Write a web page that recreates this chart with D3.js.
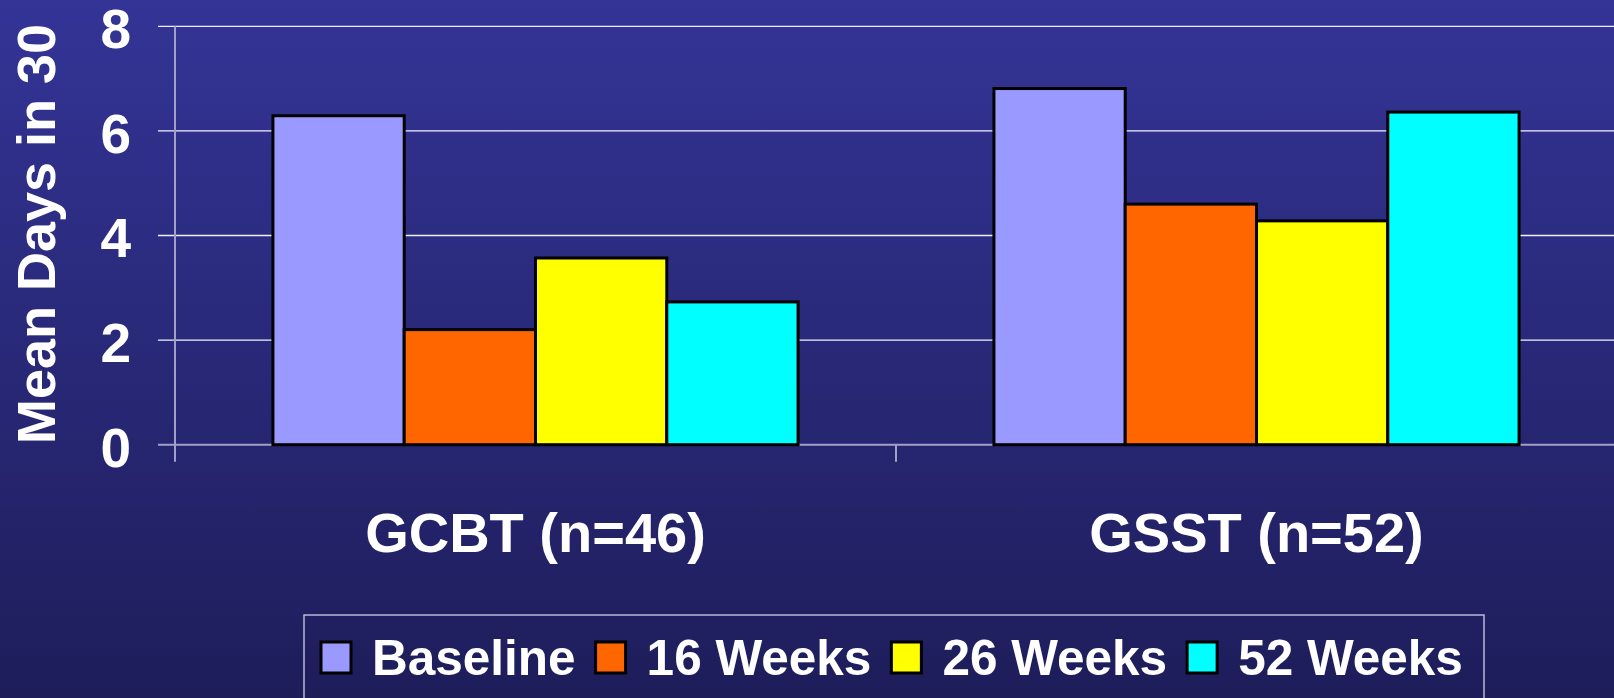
<!doctype html>
<meta charset="utf-8">
<title>Mean Days in 30</title>
<script src="https://cdn.jsdelivr.net/npm/d3@7/dist/d3.min.js"></script>
<style>
  html, body { margin: 0; padding: 0; overflow: hidden; }
  text { font-family: "Liberation Sans", Arial, sans-serif; font-weight: bold; fill: #fff; }
</style>
<div class="chart"></div>
<script>
  // data
  const groups = ['GCBT (n=46)', 'GSST (n=52)']
  const series = ['Baseline', '16 Weeks', '26 Weeks', '52 Weeks']
  const baseline = [6.29, 6.81]
  const weeks16 = [2.20, 4.60]
  const weeks26 = [3.57, 4.28]
  const weeks52 = [2.73, 6.36]
  const yTicks = [0, 2, 4, 6, 8]
  const colors = ['#9999ff', '#ff6600', '#ffff00', '#00ffff']

  const values = [baseline, weeks16, weeks26, weeks52]
  const rows = []
  groups.forEach((g, gi) => {
    series.forEach((s, si) => rows.push({ group: g, series: s, value: values[si][gi] }))
  })

  const W = 1614, H = 698
  const plotLeft = 175, plotRight = 1617, plotTop = 26.3, plotBottom = 444.7

  const svg = d3.select('.chart').append('svg')
    .attr('width', W)
    .attr('height', H)

  // background gradient
  const grad = svg.append('defs').append('linearGradient')
    .attr('id', 'bg').attr('x1', 0).attr('y1', 0).attr('x2', 0).attr('y2', 1)
  grad.append('stop').attr('offset', '0%').attr('stop-color', '#343497')
  grad.append('stop').attr('offset', '100%').attr('stop-color', '#1e1d5a')
  svg.append('rect').attr('width', W).attr('height', H).attr('fill', 'url(#bg)')

  const x0 = d3.scaleBand().domain(groups).range([plotLeft, plotRight]).padding(0)
  const x1 = d3.scaleBand().domain(series).range([0, x0.bandwidth()])
    .paddingInner(0).paddingOuter(0.746)
  const y = d3.scaleLinear().domain([0, 8]).range([plotBottom, plotTop])
  const color = d3.scaleOrdinal().domain(series).range(colors)

  // grid lines
  svg.append('g').selectAll('line')
    .data(yTicks.filter(d => d > 0))
    .enter().append('line')
    .attr('x1', plotLeft - 17).attr('x2', plotRight)
    .attr('y1', d => y(d)).attr('y2', d => y(d))
    .attr('stroke', '#f0f0ff')
    .attr('stroke-width', 1.3)

  // y axis labels
  const yAxis = svg.append('g')
    .attr('transform', `translate(${plotLeft},0)`)
    .call(d3.axisLeft(y).tickValues(yTicks).tickSize(0).tickPadding(44).tickFormat(d3.format('d')))
  yAxis.select('.domain').remove()
  yAxis.selectAll('text')
    .attr('dy', '0.39em')
    .style('font-size', '55px')
    .attr('fill', '#fff')

  // axis lines
  svg.append('line')
    .attr('x1', plotLeft).attr('x2', plotLeft).attr('y1', plotTop).attr('y2', plotBottom + 17)
    .attr('stroke', '#a0a0c8').attr('stroke-width', 2)
  svg.append('line')
    .attr('x1', plotLeft - 17).attr('x2', plotRight).attr('y1', plotBottom).attr('y2', plotBottom)
    .attr('stroke', '#a0a0c8').attr('stroke-width', 2)
  svg.append('g').selectAll('line')
    .data(groups.slice(1))
    .enter().append('line')
    .attr('x1', d => x0(d)).attr('x2', d => x0(d))
    .attr('y1', plotBottom).attr('y2', plotBottom + 17)
    .attr('stroke', '#a0a0c8').attr('stroke-width', 2)

  // bars
  svg.append('g').selectAll('rect')
    .data(rows)
    .enter().append('rect')
    .attr('x', d => x0(d.group) + x1(d.series))
    .attr('y', d => y(d.value))
    .attr('width', x1.bandwidth())
    .attr('height', d => plotBottom - y(d.value))
    .attr('fill', d => color(d.series))
    .attr('stroke', '#000')
    .attr('stroke-width', 3)

  // category labels
  svg.append('g').selectAll('text')
    .data(groups)
    .enter().append('text')
    .attr('x', d => x0(d) + x0.bandwidth() / 2)
    .attr('y', 552)
    .attr('text-anchor', 'middle')
    .style('font-size', '56px')
    .text(d => d)

  // y title
  svg.append('text')
    .attr('transform', 'translate(55,234) rotate(-90)')
    .attr('text-anchor', 'middle')
    .style('font-size', '54px')
    .text('Mean Days in 30')

  // legend
  const legend = svg.append('g')
  legend.append('rect')
    .attr('x', 304).attr('y', 615)
    .attr('width', 1484 - 304).attr('height', 120)
    .attr('fill', 'none')
    .attr('stroke', '#b8b8d8')
    .attr('stroke-width', 1.5)

  let lx = 321
  series.forEach((s, i) => {
    legend.append('rect')
      .attr('x', lx).attr('y', 642)
      .attr('width', 30).attr('height', 31)
      .attr('fill', color(s))
      .attr('stroke', '#000')
      .attr('stroke-width', 3)
    const t = legend.append('text')
      .attr('x', lx + 51).attr('y', 674.5)
      .style('font-size', '49.5px')
      .text(s)
    lx += 51 + t.node().getComputedTextLength() + 20
  })
</script>
